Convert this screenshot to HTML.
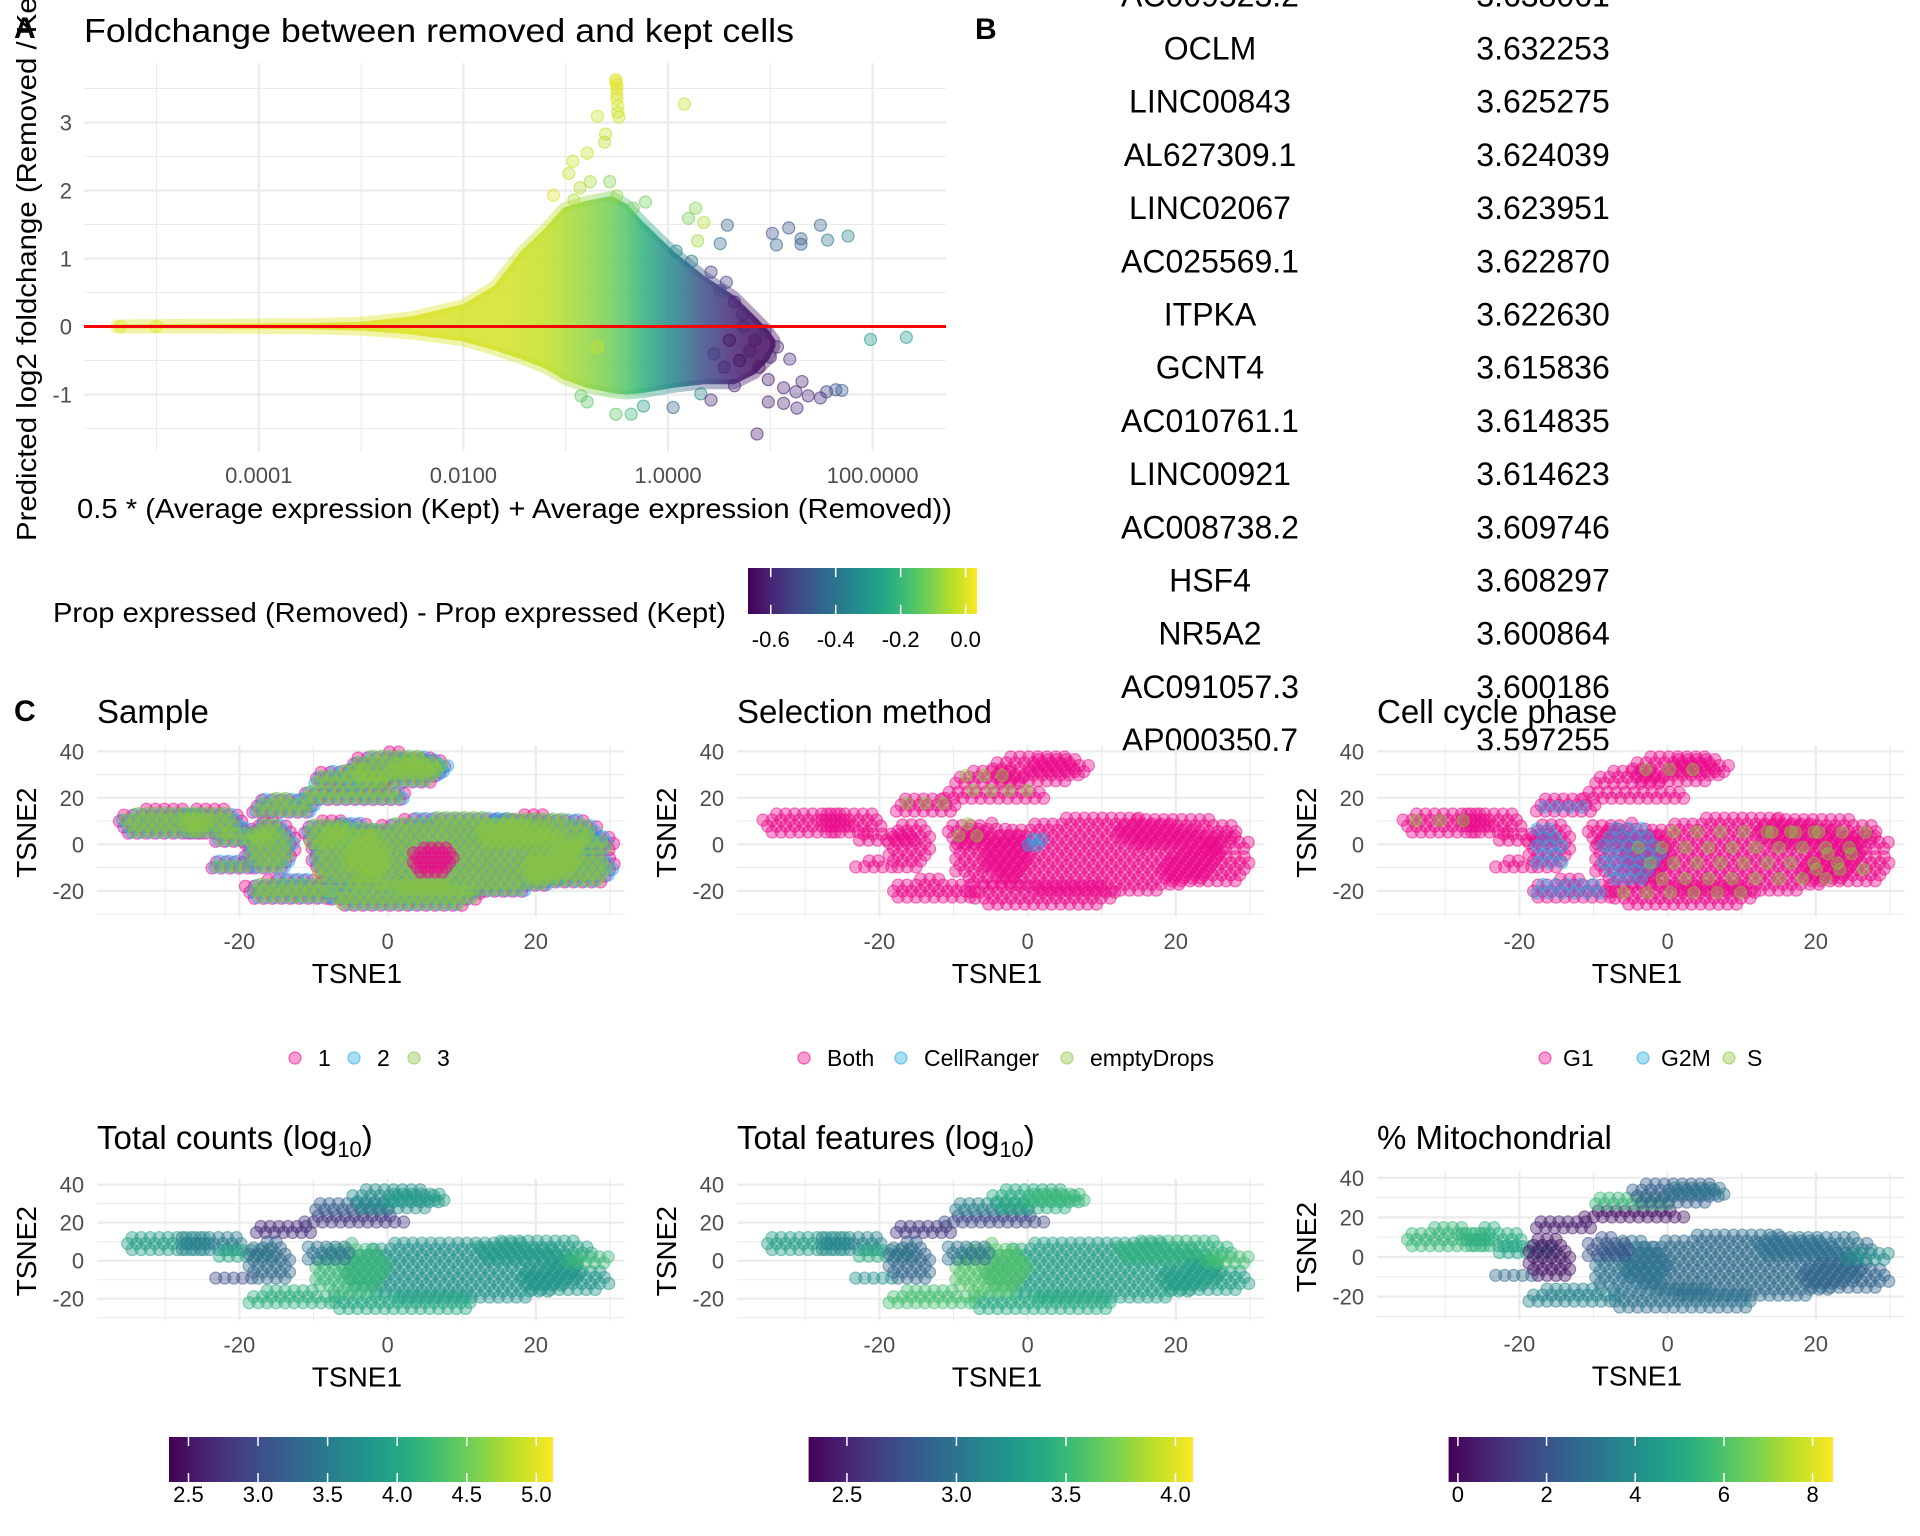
<!DOCTYPE html>
<html><head><meta charset="utf-8"><style>
html,body{margin:0;padding:0;background:#fff}
svg{display:block}
text{font-family:"Liberation Sans",sans-serif}
.tick{font-size:22px;fill:#4d4d4d}
.ttl{font-size:33px;fill:#000}
.axt{font-size:28px;fill:#000}
.tab{font-size:32px;fill:#000}
.lg{font-size:23px;fill:#000}
.cbl{font-size:22px;fill:#000}
</style></head><body>
<svg id="fig" width="1920" height="1536" viewBox="0 0 1920 1536" xmlns="http://www.w3.org/2000/svg">
<defs id="defs"><clipPath id="tabclip"><rect x="940" y="0" width="700" height="752"/></clipPath></defs>
<g id="panelA"></g>
<g id="tableB" clip-path="url(#tabclip)"></g>
<g id="panelC"></g>
<g id="labels">
<text x="14" y="38" font-size="30" font-weight="bold">A</text>
<text x="975" y="39" font-size="30" font-weight="bold">B</text>
<text x="14" y="721" font-size="30" font-weight="bold">C</text>
<text class="ttl" x="84" y="42" textLength="710" lengthAdjust="spacingAndGlyphs">Foldchange between removed and kept cells</text>
<text class="axt" x="77" y="518" textLength="875" lengthAdjust="spacingAndGlyphs">0.5 * (Average expression (Kept) + Average expression (Removed))</text>
<text class="axt" transform="translate(36,541) rotate(-90)" x="0" y="0" textLength="578" lengthAdjust="spacingAndGlyphs">Predicted log2 foldchange (Removed / Kept)</text>
<text class="axt" x="53" y="622" textLength="673" lengthAdjust="spacingAndGlyphs">Prop expressed (Removed) - Prop expressed (Kept)</text>
</g>
</svg>
<script>
// ---------- Panel A data ----------
const envLog   = [-5.4,-4.5,-3.5,-3.0,-2.5,-2.0,-1.7,-1.44,-1.2,-1.02,-0.8,-0.55,-0.4,-0.25,0.06,0.35,0.65,0.85,0.98,1.05];
const envUpper = [0.03,0.04,0.05,0.07,0.15,0.33,0.6,1.1,1.45,1.75,1.85,1.92,1.8,1.55,1.1,0.75,0.45,0.15,-0.05,-0.2];
const envLower = [-0.03,-0.03,-0.04,-0.06,-0.12,-0.22,-0.35,-0.48,-0.62,-0.78,-0.9,-0.98,-1.0,-0.98,-0.9,-0.85,-0.85,-0.7,-0.5,-0.3];
const envProp  = [0,0,0,0,0,-0.01,-0.01,-0.02,-0.03,-0.05,-0.08,-0.12,-0.16,-0.22,-0.35,-0.5,-0.6,-0.64,-0.65,-0.65];
const ptLog = [-0.51,-0.51,-0.5,-0.5,-0.5,-0.5,-0.49,-0.49,-0.48,0.16,-0.69,-0.61,-0.62,-0.79,-0.93,-0.97,-0.86,-0.76,-0.57,-1.12,-0.92,-0.5,
 -0.22,-0.34,0.27,0.35,0.29,0.2,0.58,0.51,1.02,1.06,1.18,1.3,1.3,1.49,1.56,1.76,1.98,2.33,
 0.8,0.89,0.98,1.13,1.25,1.37,1.49,1.31,1.19,1.07,0.74,0.95,0.87,1.26,0.65,0.98,1.13,1.55,1.7,1.64,
 -0.85,-0.79,-0.51,-0.36,-0.24,0.05,0.32,0.42,-0.69,0.42,0.57,0.65,0.73,0.51,0.23,0.08,
 0.6,0.7,0.55,0.85,1.0,0.45,-5.35,-5.0];
const ptLfc = [3.63,3.6,3.55,3.5,3.42,3.35,3.25,3.15,3.08,3.27,3.09,2.83,2.71,2.55,2.43,2.25,2.04,2.13,2.13,1.93,1.86,1.92,
 1.83,1.74,1.74,1.53,1.26,1.59,1.49,1.22,1.37,1.2,1.45,1.29,1.21,1.49,1.27,1.33,-0.19,-0.16,
 -0.36,-0.6,-0.78,-0.9,-0.96,-1.02,-1.05,-0.81,-0.48,-0.3,0,-0.06,-1.58,-1.2,-0.87,-1.11,-1.13,-0.96,-0.94,-0.93,
 -1.02,-1.11,-1.29,-1.29,-1.17,-1.19,-0.99,-1.08,-0.3,0.8,0.65,0.36,0.18,0.53,0.96,1.11,
 -0.2,-0.5,-0.6,-0.2,-0.45,-0.4,0,0];
const ptProp = [0,0,0,0,0,0,-0.01,-0.02,-0.02,-0.03,-0.02,-0.03,-0.04,-0.02,-0.02,-0.03,-0.05,-0.06,-0.1,0,-0.05,-0.08,
 -0.12,-0.12,-0.1,-0.05,-0.07,-0.12,-0.45,-0.42,-0.5,-0.45,-0.5,-0.45,-0.47,-0.45,-0.4,-0.35,-0.3,-0.3,
 -0.62,-0.63,-0.63,-0.62,-0.6,-0.6,-0.58,-0.6,-0.58,-0.6,-0.6,-0.58,-0.62,-0.6,-0.6,-0.62,-0.6,-0.55,-0.45,-0.5,
 -0.15,-0.15,-0.15,-0.2,-0.3,-0.45,-0.35,-0.6,-0.02,-0.55,-0.55,-0.6,-0.6,-0.5,-0.4,-0.35,
 -0.65,-0.65,-0.6,-0.62,-0.6,-0.55,0,0];
const aYTicks = [-1,0,1,2,3];
const aXTicks = [-4,-2,0,2];
const aXTickLabels = ["0.0001","0.0100","1.0000","100.0000"];
const aCbTicks = [-0.6,-0.4,-0.2,0.0];
const aCbTickLabels = ["-0.6","-0.4","-0.2","0.0"];
const aCbRange = [-0.67,0.035];

// ---------- Table B data ----------
const genes = ["AC009523.2","OCLM","LINC00843","AL627309.1","LINC02067","AC025569.1","ITPKA","GCNT4","AC010761.1","LINC00921","AC008738.2","HSF4","NR5A2","AC091057.3","AP000350.7"];
const geneValues = ["3.638061","3.632253","3.625275","3.624039","3.623951","3.622870","3.622630","3.615836","3.614835","3.614623","3.609746","3.608297","3.600864","3.600186","3.597255"];

// ---------- Panel C data (t-SNE cell regions) ----------
const blobT1 = [10, 2, -13, 20, 24, 27, -5, -8, -30, -24, -19, -21, -16, -14, -4.5, -5, 1, 4];
const blobT2 = [-5, -22, -20, 5, -10, 0, -5, 4, 9, 9, 3, -9.5, -1, 16, 21, 28, 32, 33];
const blobR1 = [16, 10, 6, 8, 6, 3, 5, 3, 6, 4, 4, 2.5, 3, 4, 7, 5, 6, 4];
const blobR2 = [17, 6, 5, 7, 8, 4, 14, 6, 6, 6, 3.5, 2.5, 11, 4, 3.5, 4, 7, 4];
const countsVals = [3.75,4.0,4.1,3.9,3.8,4.2,4.2,3.4,3.9,3.5,4.0,3.0,3.3,2.7,2.8,3.2,3.7,3.9];
const featVals   = [3.3,3.4,3.55,3.45,3.3,3.55,3.6,3.0,3.3,3.1,3.4,3.2,2.9,2.6,2.7,3.1,3.4,3.5];
const mitoVals   = [2.8,3.0,3.6,3.0,2.6,4.0,3.1,2.0,5.5,5.2,4.8,2.8,0.3,0.5,0.2,5.5,2.4,3.2];
const samplePinkPatch = [6,-7,3,7];
const selGreenBlobs = [13,14,15,7];
const selBlueBlobs = [6];
const cycleBlueBlobs = [2,6,12,13];
const cycleGreenBlobs = [0,3,4,8,1,16];
const tsneXTicks = [-20,0,20];
const tsneYTicks = [-20,0,20,40];
const countsRange = [2.36,5.12], countsTicks = [2.5,3.0,3.5,4.0,4.5,5.0], countsTickLabels=["2.5","3.0","3.5","4.0","4.5","5.0"];
const featRange = [2.325,4.08], featTicks = [2.5,3.0,3.5,4.0], featTickLabels=["2.5","3.0","3.5","4.0"];
const mitoRange = [-0.21,8.46], mitoTicks = [0,2,4,6,8], mitoTickLabels=["0","2","4","6","8"];

// ---------- helpers ----------
const NS="http://www.w3.org/2000/svg";
function mk(tag, attrs, parent){const e=document.createElementNS(NS,tag);for(const k in attrs)e.setAttribute(k,attrs[k]);if(parent)parent.appendChild(e);return e;}
const VIR=["#440154","#482475","#414487","#355f8d","#2a788e","#21918c","#22a884","#44bf70","#7ad151","#bddf26","#fde725"];
function hex(h){return [parseInt(h.slice(1,3),16),parseInt(h.slice(3,5),16),parseInt(h.slice(5,7),16)];}
function viridis(t){t=Math.max(0,Math.min(1,t));const p=t*10,i=Math.min(9,Math.floor(p)),f=p-i;const a=hex(VIR[i]),b=hex(VIR[i+1]);return "rgb("+a.map((v,k)=>Math.round(v+(b[k]-v)*f)).join(",")+")";}
function gradient(id,x1,x2,stops){const g=mk("linearGradient",{id:id,gradientUnits:"userSpaceOnUse",x1:x1,y1:0,x2:x2,y2:0},document.getElementById("defs"));stops.forEach(s=>mk("stop",{offset:s[0],"stop-color":s[1]},g));return g;}
function colorbar(parent,x1,x2,y1,y2,range,ticks,labels,name,lblOff){
  const gid="cb-"+name; const st=[];for(let i=0;i<=20;i++)st.push([i/20,viridis(i/20)]);
  gradient(gid,x1,x2,st);
  const g=mk("g",{},parent);
  
  
  mk("rect",{x:x1,y:y1,width:x2-x1,height:y2-y1,fill:"url(#"+gid+")"},g);
  const sc=v=>x1+(v-range[0])/(range[1]-range[0])*(x2-x1);
  const h=(y2-y1)/5;
  ticks.forEach((v,i)=>{const x=sc(v);
    mk("line",{x1:x,x2:x,y1:y1,y2:y1+h,stroke:"#fff","stroke-width":1.5},g);
    mk("line",{x1:x,x2:x,y1:y2-h,y2:y2,stroke:"#fff","stroke-width":1.5},g);
    const t=mk("text",{x:x,y:y2+lblOff,"text-anchor":"middle",class:"cbl"},g);t.textContent=labels[i];
    
    
  });
}

// ---------- Panel A ----------
(function(){
  const P=document.getElementById("panelA");
  const xs=v=>668+102.3*v, ys=v=>326.5-68*v;
  const L=84,R=946,T=63,B=451;
  const grid=mk("g",{},P);
  
  
  for(let v=-1.5;v<=3.51;v+=0.5){const maj=Math.abs(v-Math.round(v))<1e-6;mk("line",{x1:L,x2:R,y1:ys(v),y2:ys(v),stroke:"#ebebeb","stroke-width":maj?2.2:1.1},grid);}
  for(let v=-5;v<=2;v++){const maj=(v%2===0);mk("line",{x1:xs(v),x2:xs(v),y1:T,y2:B,stroke:"#ebebeb","stroke-width":maj?2.2:1.1},grid);}
  aYTicks.forEach(v=>{const t=mk("text",{x:72,y:ys(v)+8,"text-anchor":"end",class:"tick"},P);t.textContent=String(v);
    
    });
  aXTicks.forEach((v,i)=>{const t=mk("text",{x:xs(v),y:483,"text-anchor":"middle",class:"tick"},P);t.textContent=aXTickLabels[i];
    
    });
  const cs=aCbRange, tcol=v=>(v-cs[0])/(cs[1]-cs[0]);
  const x1=xs(envLog[0]),x2=xs(envLog[envLog.length-1]);
  gradient("envgrad",x1,x2,envLog.map((l,i)=>[(xs(l)-x1)/(x2-x1),viridis(tcol(envProp[i]))]));
  let d="M"+envLog.map((l,i)=>xs(l)+","+ys(envUpper[i])).join(" L");
  for(let i=envLog.length-1;i>=0;i--)d+=" L"+xs(envLog[i])+","+ys(envLower[i]);
  const env=mk("path",{d:d+"Z",fill:"url(#envgrad)","fill-opacity":0.85,stroke:"url(#envgrad)","stroke-width":10,"stroke-opacity":0.4,"stroke-linejoin":"round"},P);
  
  
  const pts=mk("g",{},P);
  
  
  ptLog.forEach((l,i)=>{const c=viridis(tcol(ptProp[i]));
    const e=mk("circle",{cx:xs(l),cy:ys(ptLfc[i]),r:6,fill:c,"fill-opacity":0.35,stroke:c,"stroke-opacity":0.6,"stroke-width":1.2},pts);
    
    });
  const rl=mk("line",{x1:L,x2:R,y1:ys(0),y2:ys(0),stroke:"#ff0000","stroke-width":3},P);
  
  
  colorbar(P,748,977,568,614,aCbRange,aCbTicks,aCbTickLabels,"colorbar-a",33);
})();

// ---------- Table B ----------
(function(){
  const G=document.getElementById("tableB");
  genes.forEach((g,i)=>{const y=48.5+53.2*(i-1)+11;
    const a=mk("text",{x:1210,y:y,"text-anchor":"middle",class:"tab"},G);a.textContent=g;
    
    
    const b=mk("text",{x:1543,y:y,"text-anchor":"middle",class:"tab"},G);b.textContent=geneValues[i];
    
    });
})();

// ---------- Panel C ----------
(function(){
  const C=document.getElementById("panelC");
  const PINK="#ea0a8c",BLUE="#25a9e6",GREEN="#8cc440";
  const panels=[
    {col:0,row:0,title:"Sample",name:"tsne-sample"},
    {col:1,row:0,title:"Selection method",name:"tsne-selection-method"},
    {col:2,row:0,title:"Cell cycle phase",name:"tsne-cell-cycle"},
    {col:0,row:1,title:"Total counts (log",sub:"10",name:"tsne-total-counts"},
    {col:1,row:1,title:"Total features (log",sub:"10",name:"tsne-total-features"},
    {col:2,row:1,title:"% Mitochondrial",name:"tsne-mito"}];
  panels.forEach((p,pi)=>{
    const x0=387.6+640*p.col, kx=7.41;
    let y0,ky; if(p.row===0){y0=844.3;ky=2.325;} else if(p.col<2){y0=1260.7;ky=1.9;} else {y0=1257;ky=1.98;}
    const xs=v=>x0+kx*v, ys=v=>y0-ky*v;
    const g=mk("g",{},C);
    
    
    const L=xs(-39.2),R=xs(32);
    for(let v=-30;v<=40;v+=10){const maj=(v%20===0);mk("line",{x1:L,x2:R,y1:ys(v),y2:ys(v),stroke:"#ebebeb","stroke-width":maj?2.2:1.1},g);}
    for(let v=-30;v<=30;v+=10){const maj=(v%20===0);mk("line",{x1:xs(v),x2:xs(v),y1:ys(40)-6,y2:ys(-30)+3,stroke:"#ebebeb","stroke-width":maj?2.2:1.1},g);}
    tsneYTicks.forEach(v=>{const t=mk("text",{x:L-13,y:ys(v)+8,"text-anchor":"end",class:"tick"},g);t.textContent=String(v);
      
      });
    tsneXTicks.forEach(v=>{const t=mk("text",{x:xs(v),y:ys(-30)+35,"text-anchor":"middle",class:"tick"},g);t.textContent=String(v);
      
      });
    const xt=mk("text",{x:(L+R)/2-4,y:ys(-30)+69,"text-anchor":"middle",class:"axt"},g);xt.textContent="TSNE1";
    
    
    const yc=(ys(40)+ys(-30))/2;
    const yt=mk("text",{transform:"translate("+(36+640*p.col)+","+yc+") rotate(-90)","text-anchor":"middle",class:"axt"},g);yt.textContent="TSNE2";
    
    
    const ty=p.row===0?723:1149;
    const tt=mk("text",{x:97+640*p.col,y:ty,class:"ttl"},g);tt.textContent=p.title;
    
    
    if(p.sub){const s=mk("tspan",{"font-size":22,dy:8},tt);s.textContent=p.sub;const s2=mk("tspan",{dy:-8},tt);s2.textContent=")";}
    const pts=mk("g",{},g);
    
    
    const sx=9/kx, sy=6/ky;
    function fillBlob(b,color,inflate,stepMul){
      const cx=b[0],cy=b[1],rx=b[2]+inflate,ry=b[3]+inflate;
      const stx=sx*stepMul, sty=sy*stepMul; let row=0;
      for(let ty2=cy-ry;ty2<=cy+ry;ty2+=sty,row++){
        for(let tx=cx-rx+(row%2)*stx/2;tx<=cx+rx;tx+=stx){
          const q=((tx-cx)/rx)**2+((ty2-cy)/ry)**2; if(q>1)continue;
          const e=mk("circle",{cx:xs(tx),cy:ys(ty2),r:6,fill:color,"fill-opacity":0.4,stroke:color,"stroke-opacity":0.5,"stroke-width":1.2},pts);
          
          
        }}
    }
    const blob=i=>[blobT1[i],blobT2[i],blobR1[i],blobR2[i]];
    const all=blobT1.map((_,i)=>i);
    if(pi===0){all.forEach(i=>fillBlob(blob(i),PINK,0.8,1));all.forEach(i=>fillBlob(blob(i),BLUE,0.4,1));all.forEach(i=>fillBlob(blob(i),GREEN,0,1));fillBlob(samplePinkPatch,PINK,0,0.8);}
    else if(pi===1){all.forEach(i=>fillBlob(blob(i),PINK,0.3,1));selGreenBlobs.forEach(i=>fillBlob(blob(i),GREEN,-0.5,2));selBlueBlobs.forEach(i=>fillBlob([1,0,1.5,3],BLUE,0,1));}
    else if(pi===2){all.forEach(i=>fillBlob(blob(i),PINK,0.3,1));cycleBlueBlobs.forEach(i=>fillBlob(blob(i),BLUE,-0.5,1.4));cycleGreenBlobs.forEach(i=>fillBlob(blob(i),GREEN,-0.5,2.6));}
    else{
      const vals=pi===3?countsVals:pi===4?featVals:mitoVals, rg=pi===3?countsRange:pi===4?featRange:mitoRange;
      all.forEach(i=>fillBlob(blob(i),viridis((vals[i]-rg[0])/(rg[1]-rg[0])),0.3,1));
    }
    if(p.row===0){
      const labs=pi===0?["1","2","3"]:pi===1?["Both","CellRanger","emptyDrops"]:["G1","G2M","S"];
      const cxs=pi===0?[295,354,414]:pi===1?[804,901,1067]:[1545,1643,1729];
      const lg=mk("g",{},g);
      
      
      [PINK,BLUE,GREEN].forEach((c,k)=>{
        mk("circle",{cx:cxs[k],cy:1058,r:6,fill:c,"fill-opacity":0.4,stroke:c,"stroke-opacity":0.6,"stroke-width":1.2},lg);
        const t=mk("text",{x:cxs[k]+(pi===2?18:23),y:1066,class:"lg"},lg);t.textContent=labs[k];
        
        });
    } else {
      if(pi===3)colorbar(g,169,553,1437,1482,countsRange,countsTicks,countsTickLabels,"colorbar-counts",20);
      if(pi===4)colorbar(g,808.6,1193,1437,1482,featRange,featTicks,featTickLabels,"colorbar-features",20);
      if(pi===5)colorbar(g,1448.6,1833,1437,1482,mitoRange,mitoTicks,mitoTickLabels,"colorbar-mito",20);
    }
  });
})();
</script>
</body></html>
